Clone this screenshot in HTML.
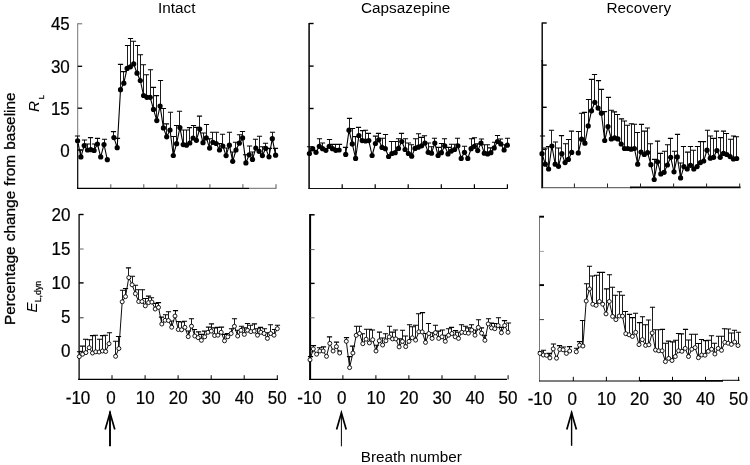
<!DOCTYPE html>
<html><head><meta charset="utf-8"><title>Figure</title>
<style>
html,body{margin:0;padding:0;background:#fff}
svg{display:block}
text{font-family:"Liberation Sans",Arial,sans-serif;font-size:15.3px;fill:#000}
.b{stroke:#000;stroke-width:0.3px}
.t{stroke:#000;stroke-width:0.2px}
</style></head><body>
<svg width="750" height="465" viewBox="0 0 750 465">
<rect width="750" height="465" fill="#fff"/>
<path d="M77.7 23.3V145" stroke="#777" stroke-width="1"/>
<path d="M77.7 144V188.9" stroke="#000" stroke-width="1.2"/>
<path d="M77.7 23.8h4.5" stroke="#666" stroke-width="1"/>
<path d="M77.7 66.3h4.5" stroke="#000" stroke-width="1.3"/>
<path d="M77.7 108.2h4.5" stroke="#000" stroke-width="1.3"/>
<path d="M77.7 150h4.5" stroke="#000" stroke-width="1.2"/>
<path d="M77.1 188.4H249" stroke="#000" stroke-width="1.25"/>
<path d="M249 188.3H276.3" stroke="#555" stroke-width="0.9"/>
<path d="M110.8 188.4v-4.2M143.8 188.4v-4.2M176.8 188.4v-4.2M209.9 188.4v-4.2M242.9 188.4v-4.2M276 188.4v-4.2" stroke="#444" stroke-width="0.9"/>
<path d="M309.1 22.9V189" stroke="#000" stroke-width="1.5"/>
<path d="M309.1 23.5h4.5" stroke="#000" stroke-width="1.4"/>
<path d="M309.1 66.1h4.5" stroke="#000" stroke-width="1.4"/>
<path d="M309.1 108.5h4.5" stroke="#000" stroke-width="1.4"/>
<path d="M309.1 150.5h4.5" stroke="#000" stroke-width="1.4"/>
<path d="M308.5 188.5H507.8" stroke="#111" stroke-width="1.0"/>
<path d="M342.2 188.5v-4.2M375.2 188.5v-4.2M408.2 188.5v-4.2M441.3 188.5v-4.2M474.4 188.5v-4.2M507.4 188.5v-4.2" stroke="#000" stroke-width="1.2"/>
<path d="M542.2 22.4V61" stroke="#000" stroke-width="1.4"/>
<path d="M542.2 60V188.2" stroke="#000" stroke-width="1.8"/>
<path d="M542.2 23h4.5" stroke="#000" stroke-width="1.4"/>
<path d="M542.2 65.1h4.5" stroke="#000" stroke-width="1.4"/>
<path d="M542.2 107.3h4.5" stroke="#000" stroke-width="1.4"/>
<path d="M542.2 149.4h4.5" stroke="#000" stroke-width="1.4"/>
<path d="M541 187.7H632" stroke="#333" stroke-width="0.9"/>
<path d="M630 187.3H740.6" stroke="#000" stroke-width="1.7"/>
<path d="M574.4 187.7v-4.2M607.5 187.7v-4.2M640.5 187.7v-4.2M673.6 187.7v-4.2M706.6 187.7v-4.2M739.7 187.7v-4.2" stroke="#222" stroke-width="1.0"/>
<path d="M79.1 214V380" stroke="#000" stroke-width="1.3"/>
<path d="M79.1 214.5h4.5" stroke="#000" stroke-width="1.4"/>
<path d="M79.1 249h4.5" stroke="#555" stroke-width="0.9"/>
<path d="M79.1 282.9h4.5" stroke="#000" stroke-width="1.4"/>
<path d="M79.1 317.8h4.5" stroke="#333" stroke-width="1"/>
<path d="M79.1 351.3h4.5" stroke="#333" stroke-width="1"/>
<path d="M78.2 379.4H278" stroke="#000" stroke-width="1.2"/>
<path d="M112 379.4v-4.2M145.1 379.4v-4.2M178.1 379.4v-4.2M211.2 379.4v-4.2M244.2 379.4v-4.2M277.3 379.4v-4.2" stroke="#000" stroke-width="1.0"/>
<path d="M310.1 214V380" stroke="#000" stroke-width="2"/>
<path d="M310.1 214.8h4.5" stroke="#000" stroke-width="1.5"/>
<path d="M310.1 249.6h4.5" stroke="#555" stroke-width="0.9"/>
<path d="M310.1 283.4h4.5" stroke="#000" stroke-width="1.4"/>
<path d="M310.1 317.8h4.5" stroke="#555" stroke-width="0.9"/>
<path d="M310.1 351.8h4.5" stroke="#333" stroke-width="1"/>
<path d="M309.1 379.4H507" stroke="#000" stroke-width="1.2"/>
<path d="M342.9 379.4v-4.2M375.9 379.4v-4.2M408.9 379.4v-4.2M442 379.4v-4.2M475.1 379.4v-4.2M508.1 379.4v-4.2" stroke="#000" stroke-width="1.0"/>
<path d="M539.5 215.8V381.4" stroke="#777" stroke-width="1"/>
<path d="M539.5 216.7h4.5" stroke="#000" stroke-width="1.9"/>
<path d="M539.5 251.4h4.5" stroke="#999" stroke-width="0.9"/>
<path d="M539.5 285.1h4.5" stroke="#000" stroke-width="1.9"/>
<path d="M539.5 319.6h4.5" stroke="#444" stroke-width="1"/>
<path d="M539.5 353.5h4.5" stroke="#444" stroke-width="1"/>
<path d="M539 381H641" stroke="#000" stroke-width="1.0"/>
<path d="M640 380.9H723" stroke="#000" stroke-width="1.9"/>
<path d="M722 380.3H739.6" stroke="#000" stroke-width="1.0"/>
<path d="M573.3 381v-4.2M606.4 381v-4.2M639.4 381v-4.2M672.5 381v-4.2M705.5 381v-4.2M738.6 381v-4.2" stroke="#000" stroke-width="1.0"/>
<path d="M77.5 140.8V136M80.5 156.9V150M84.5 145.6V140M87.5 150V144M90.5 149.7V137.6M94.5 150.5V144M97.5 144V138.4M104.5 144.5V139.2M113.5 137.6V131.6M117.5 147.7V138.4M120.5 89.7V64.4M123.5 83.2V71.6M127.5 68.4V45.5M130.5 66.8V38.5M133.5 63.9V41.3M137.5 73.2V45.5M140.5 80.5V54.7M143.5 95.5V64.8M146.5 97.3V74.8M150.5 97.3V69.7M153.5 109.4V87.4M156.5 120.6V95.6M160.5 106.1V80.5M163.5 127.9V108.5M166.5 136.8V123.9M170.5 130V112.3M173.5 155.5V136.5M176.5 143.7V125.5M179.5 127.6V111.3M183.5 144.6V130M186.5 145.2V130M189.5 143V127.6M193.5 138V125.5M196.5 140.3V127.4M199.5 129V116.1M203.5 142.7V133M206.5 137.9V124.5M209.5 148.1V138.7M212.5 142.3V132.3M216.5 143.5V132.3M219.5 150V143.5M222.5 146V134.2M226.5 155.6V148M229.5 145.2V132.3M232.5 161.3V152M235.5 150V142.3M239.5 143.2V134.7M242.5 137.9V131.5M245.5 162.9V154.8M249.5 154.8V146M252.5 159.4V152M255.5 148.1V139.2M259.5 151.3V136.3M262.5 155.6V146.8M265.5 148.4V143.2M269.5 156.8V148.4M272.5 138.7V132.3M275.5 155.2V148.4" stroke="#111" stroke-width="0.95" fill="none"/>
<path d="M74.9 136H80.1M77.9 150H83.1M81.9 140H87.1M84.9 144H90.1M87.9 137.6H93.1M91.9 144H97.1M94.9 138.4H100.1M101.9 139.2H107.1M110.9 131.6H116.1M114.9 138.4H120.1M117.9 64.4H123.1M120.9 71.6H126.1M124.9 45.5H130.1M127.9 38.5H133.1M130.9 41.3H136.1M134.9 45.5H140.1M137.9 54.7H143.1M140.9 64.8H146.1M143.9 74.8H149.1M147.9 69.7H153.1M150.9 87.4H156.1M153.9 95.6H159.1M157.9 80.5H163.1M160.9 108.5H166.1M163.9 123.9H169.1M167.9 112.3H173.1M170.9 136.5H176.1M173.9 125.5H179.1M176.9 111.3H182.1M180.9 130H186.1M183.9 130H189.1M186.9 127.6H192.1M190.9 125.5H196.1M193.9 127.4H199.1M196.9 116.1H202.1M200.9 133H206.1M203.9 124.5H209.1M206.9 138.7H212.1M209.9 132.3H215.1M213.9 132.3H219.1M216.9 143.5H222.1M219.9 134.2H225.1M223.9 148H229.1M226.9 132.3H232.1M229.9 152H235.1M232.9 142.3H238.1M236.9 134.7H242.1M239.9 131.5H245.1M242.9 154.8H248.1M246.9 146H252.1M249.9 152H255.1M252.9 139.2H258.1M256.9 136.3H262.1M259.9 146.8H265.1M262.9 143.2H268.1M266.9 148.4H272.1M269.9 132.3H275.1M272.9 148.4H278.1" stroke="#000" stroke-width="1.1" fill="none"/>
<path d="M77.6 140.8L80.9 156.9L84.2 145.6L87.5 150L90.8 149.7L94.1 150.5L97.4 144L100.7 156.9L104 144.5L107.3 159.7M113.9 137.6L117.2 147.7L120.5 89.7L123.8 83.2L127.1 68.4L130.4 66.8L133.7 63.9L137 73.2L140.3 80.5L143.6 95.5L146.9 97.3L150.2 97.3L153.5 109.4L156.8 120.6L160.1 106.1L163.4 127.9L166.7 136.8L170 130L173.3 155.5L176.6 143.7L179.9 127.6L183.2 144.6L186.5 145.2L189.8 143L193.1 138L196.4 140.3L199.7 129L203 142.7L206.3 137.9L209.6 148.1L212.9 142.3L216.2 143.5L219.5 150L222.8 146L226.1 155.6L229.4 145.2L232.7 161.3L236 150L239.3 143.2L242.6 137.9L245.9 162.9L249.2 154.8L252.5 159.4L255.8 148.1L259.1 151.3L262.4 155.6L265.7 148.4L269 156.8L272.3 138.7L275.6 155.2" stroke="#000" stroke-width="1.1" fill="none" stroke-linejoin="round"/>
<g fill="#000"><circle cx="77.6" cy="140.8" r="2.6"/><circle cx="80.9" cy="156.9" r="2.6"/><circle cx="84.2" cy="145.6" r="2.6"/><circle cx="87.5" cy="150" r="2.6"/><circle cx="90.8" cy="149.7" r="2.6"/><circle cx="94.1" cy="150.5" r="2.6"/><circle cx="97.4" cy="144" r="2.6"/><circle cx="100.7" cy="156.9" r="2.6"/><circle cx="104" cy="144.5" r="2.6"/><circle cx="107.3" cy="159.7" r="2.6"/><circle cx="113.9" cy="137.6" r="2.6"/><circle cx="117.2" cy="147.7" r="2.6"/><circle cx="120.5" cy="89.7" r="2.6"/><circle cx="123.8" cy="83.2" r="2.6"/><circle cx="127.1" cy="68.4" r="2.6"/><circle cx="130.4" cy="66.8" r="2.6"/><circle cx="133.7" cy="63.9" r="2.6"/><circle cx="137" cy="73.2" r="2.6"/><circle cx="140.3" cy="80.5" r="2.6"/><circle cx="143.6" cy="95.5" r="2.6"/><circle cx="146.9" cy="97.3" r="2.6"/><circle cx="150.2" cy="97.3" r="2.6"/><circle cx="153.5" cy="109.4" r="2.6"/><circle cx="156.8" cy="120.6" r="2.6"/><circle cx="160.1" cy="106.1" r="2.6"/><circle cx="163.4" cy="127.9" r="2.6"/><circle cx="166.7" cy="136.8" r="2.6"/><circle cx="170" cy="130" r="2.6"/><circle cx="173.3" cy="155.5" r="2.6"/><circle cx="176.6" cy="143.7" r="2.6"/><circle cx="179.9" cy="127.6" r="2.6"/><circle cx="183.2" cy="144.6" r="2.6"/><circle cx="186.5" cy="145.2" r="2.6"/><circle cx="189.8" cy="143" r="2.6"/><circle cx="193.1" cy="138" r="2.6"/><circle cx="196.4" cy="140.3" r="2.6"/><circle cx="199.7" cy="129" r="2.6"/><circle cx="203" cy="142.7" r="2.6"/><circle cx="206.3" cy="137.9" r="2.6"/><circle cx="209.6" cy="148.1" r="2.6"/><circle cx="212.9" cy="142.3" r="2.6"/><circle cx="216.2" cy="143.5" r="2.6"/><circle cx="219.5" cy="150" r="2.6"/><circle cx="222.8" cy="146" r="2.6"/><circle cx="226.1" cy="155.6" r="2.6"/><circle cx="229.4" cy="145.2" r="2.6"/><circle cx="232.7" cy="161.3" r="2.6"/><circle cx="236" cy="150" r="2.6"/><circle cx="239.3" cy="143.2" r="2.6"/><circle cx="242.6" cy="137.9" r="2.6"/><circle cx="245.9" cy="162.9" r="2.6"/><circle cx="249.2" cy="154.8" r="2.6"/><circle cx="252.5" cy="159.4" r="2.6"/><circle cx="255.8" cy="148.1" r="2.6"/><circle cx="259.1" cy="151.3" r="2.6"/><circle cx="262.4" cy="155.6" r="2.6"/><circle cx="265.7" cy="148.4" r="2.6"/><circle cx="269" cy="156.8" r="2.6"/><circle cx="272.3" cy="138.7" r="2.6"/><circle cx="275.6" cy="155.2" r="2.6"/></g>
<path d="M309.5 153.5V146.8M319.5 146.3V138.7M322.5 148.7V143M329.5 146.3V139.5M332.5 148.7V144.4M335.5 150.3V144.4M339.5 150V144.4M345.5 154.4V147.4M349.5 130.2V118.4M352.5 143.9V128.5M355.5 158.4V136.6M358.5 135.5V127.4M362.5 140.6V130.6M365.5 141V130.2M368.5 140.6V133.4M375.5 143.5V136.1M378.5 139.8V133.4M382.5 147.4V138.2M385.5 148.7V134.5M391.5 153.5V141.5M395.5 152.7V141.5M398.5 148.4V138.7M401.5 141.5V133.4M405.5 149.5V138.7M408.5 153.5V143M411.5 156.2V144.7M415.5 148.4V138.8M418.5 147.2V133.8M421.5 145.8V137.4M424.5 143.1V135.8M428.5 152.3V143M431.5 153.2V146.8M434.5 143.1V138.2M438.5 155.5V147.4M441.5 152.7V143.5M444.5 145.8V138.7M448.5 153.9V147.4M451.5 151.1V144.2M454.5 149.5V144.2M457.5 145.8V138.2M464.5 152.3V146.3M471.5 148.7V138.7M474.5 146.3V137.7M477.5 150.6V143.9M481.5 143.1V139M484.5 153.2V144.7M487.5 153.9V144.7M490.5 152.7V147.9M494.5 147.9V142.3M497.5 141.5V135.5M500.5 143.9V139M504.5 150V144.7M507.5 145.2V138.2" stroke="#111" stroke-width="0.95" fill="none"/>
<path d="M306.9 146.8H312.1M316.9 138.7H322.1M319.9 143H325.1M326.9 139.5H332.1M329.9 144.4H335.1M332.9 144.4H338.1M336.9 144.4H342.1M342.9 147.4H348.1M346.9 118.4H352.1M349.9 128.5H355.1M352.9 136.6H358.1M355.9 127.4H361.1M359.9 130.6H365.1M362.9 130.2H368.1M365.9 133.4H371.1M372.9 136.1H378.1M375.9 133.4H381.1M379.9 138.2H385.1M382.9 134.5H388.1M388.9 141.5H394.1M392.9 141.5H398.1M395.9 138.7H401.1M398.9 133.4H404.1M402.9 138.7H408.1M405.9 143H411.1M408.9 144.7H414.1M412.9 138.8H418.1M415.9 133.8H421.1M418.9 137.4H424.1M421.9 135.8H427.1M425.9 143H431.1M428.9 146.8H434.1M431.9 138.2H437.1M435.9 147.4H441.1M438.9 143.5H444.1M441.9 138.7H447.1M445.9 147.4H451.1M448.9 144.2H454.1M451.9 144.2H457.1M454.9 138.2H460.1M461.9 146.3H467.1M468.9 138.7H474.1M471.9 137.7H477.1M474.9 143.9H480.1M478.9 139H484.1M481.9 144.7H487.1M484.9 144.7H490.1M487.9 147.9H493.1M491.9 142.3H497.1M494.9 135.5H500.1M497.9 139H503.1M501.9 144.7H507.1M504.9 138.2H510.1" stroke="#000" stroke-width="1.1" fill="none"/>
<path d="M309.4 153.5L312.7 148.7L316 152.3L319.3 146.3L322.6 148.7L325.9 150.3L329.2 146.3L332.5 148.7L335.8 150.3L339.1 150M345.7 154.4L349 130.2L352.3 143.9L355.6 158.4L358.9 135.5L362.2 140.6L365.5 141L368.8 140.6L372.1 155.5L375.4 143.5L378.7 139.8L382 147.4L385.3 148.7L388.6 156.5L391.9 153.5L395.2 152.7L398.5 148.4L401.8 141.5L405.1 149.5L408.4 153.5L411.7 156.2L415 148.4L418.3 147.2L421.6 145.8L424.9 143.1L428.2 152.3L431.5 153.2L434.8 143.1L438.1 155.5L441.4 152.7L444.7 145.8L448 153.9L451.3 151.1L454.6 149.5L457.9 145.8L461.2 158.4L464.5 152.3L467.8 158.4L471.1 148.7L474.4 146.3L477.7 150.6L481 143.1L484.3 153.2L487.6 153.9L490.9 152.7L494.2 147.9L497.5 141.5L500.8 143.9L504.1 150L507.4 145.2" stroke="#000" stroke-width="1.1" fill="none" stroke-linejoin="round"/>
<g fill="#000"><circle cx="309.4" cy="153.5" r="2.6"/><circle cx="312.7" cy="148.7" r="2.6"/><circle cx="316" cy="152.3" r="2.6"/><circle cx="319.3" cy="146.3" r="2.6"/><circle cx="322.6" cy="148.7" r="2.6"/><circle cx="325.9" cy="150.3" r="2.6"/><circle cx="329.2" cy="146.3" r="2.6"/><circle cx="332.5" cy="148.7" r="2.6"/><circle cx="335.8" cy="150.3" r="2.6"/><circle cx="339.1" cy="150" r="2.6"/><circle cx="345.7" cy="154.4" r="2.6"/><circle cx="349" cy="130.2" r="2.6"/><circle cx="352.3" cy="143.9" r="2.6"/><circle cx="355.6" cy="158.4" r="2.6"/><circle cx="358.9" cy="135.5" r="2.6"/><circle cx="362.2" cy="140.6" r="2.6"/><circle cx="365.5" cy="141" r="2.6"/><circle cx="368.8" cy="140.6" r="2.6"/><circle cx="372.1" cy="155.5" r="2.6"/><circle cx="375.4" cy="143.5" r="2.6"/><circle cx="378.7" cy="139.8" r="2.6"/><circle cx="382" cy="147.4" r="2.6"/><circle cx="385.3" cy="148.7" r="2.6"/><circle cx="388.6" cy="156.5" r="2.6"/><circle cx="391.9" cy="153.5" r="2.6"/><circle cx="395.2" cy="152.7" r="2.6"/><circle cx="398.5" cy="148.4" r="2.6"/><circle cx="401.8" cy="141.5" r="2.6"/><circle cx="405.1" cy="149.5" r="2.6"/><circle cx="408.4" cy="153.5" r="2.6"/><circle cx="411.7" cy="156.2" r="2.6"/><circle cx="415" cy="148.4" r="2.6"/><circle cx="418.3" cy="147.2" r="2.6"/><circle cx="421.6" cy="145.8" r="2.6"/><circle cx="424.9" cy="143.1" r="2.6"/><circle cx="428.2" cy="152.3" r="2.6"/><circle cx="431.5" cy="153.2" r="2.6"/><circle cx="434.8" cy="143.1" r="2.6"/><circle cx="438.1" cy="155.5" r="2.6"/><circle cx="441.4" cy="152.7" r="2.6"/><circle cx="444.7" cy="145.8" r="2.6"/><circle cx="448" cy="153.9" r="2.6"/><circle cx="451.3" cy="151.1" r="2.6"/><circle cx="454.6" cy="149.5" r="2.6"/><circle cx="457.9" cy="145.8" r="2.6"/><circle cx="461.2" cy="158.4" r="2.6"/><circle cx="464.5" cy="152.3" r="2.6"/><circle cx="467.8" cy="158.4" r="2.6"/><circle cx="471.1" cy="148.7" r="2.6"/><circle cx="474.4" cy="146.3" r="2.6"/><circle cx="477.7" cy="150.6" r="2.6"/><circle cx="481" cy="143.1" r="2.6"/><circle cx="484.3" cy="153.2" r="2.6"/><circle cx="487.6" cy="153.9" r="2.6"/><circle cx="490.9" cy="152.7" r="2.6"/><circle cx="494.2" cy="147.9" r="2.6"/><circle cx="497.5" cy="141.5" r="2.6"/><circle cx="500.8" cy="143.9" r="2.6"/><circle cx="504.1" cy="150" r="2.6"/><circle cx="507.4" cy="145.2" r="2.6"/></g>
<path d="M542.5 153.7V136M545.5 164.2V148M548.5 169V146.5M551.5 146V130.3M555.5 164.2V142M558.5 166.3V148M561.5 153.7V135.6M565.5 162.6V143.7M568.5 159.4V139.5M571.5 152.4V131.1M578.5 152.9V131.5M581.5 139.2V113.2M584.5 143.2V112.4M588.5 125.9V99.5M591.5 110.8V79.4M594.5 102.3V74.5M598.5 108.1V80.6M601.5 113.2V89.4M604.5 140.5V111.6M608.5 126.5V97.4M611.5 138.9V110.3M614.5 137.9V111.9M617.5 138.9V114.5M621.5 144V118.9M624.5 148.5V121M627.5 148.5V125.3M631.5 149.2V123.7M634.5 148.5V124.2M637.5 164.2V132.5M641.5 152V124.4M644.5 154.5V131.1M647.5 152.6V128M650.5 164.7V143.7M654.5 179.5V159.4M657.5 161.8V141.1M660.5 173.9V153.4M664.5 172.3V151.3M667.5 165V144.8M670.5 157.3V138.4M674.5 171.8V151.3M677.5 156.9V134.4M680.5 177.9V163M683.5 166.6V146.5M687.5 169V152.1M690.5 165.3V146.5M693.5 169V150.2M697.5 166.6V146.5M700.5 162.6V141.6M703.5 161V141.6M707.5 150.2V130.3M710.5 158.2V136M713.5 157.3V138.4M716.5 150.5V131.1M720.5 157.3V137.6M723.5 153.4V131.1M726.5 154.5V133.5M730.5 156.6V139.2M733.5 158.9V136M736.5 158.5V136.8" stroke="#111" stroke-width="0.95" fill="none"/>
<path d="M539.9 136H545.1M542.9 148H548.1M545.9 146.5H551.1M548.9 130.3H554.1M552.9 142H558.1M555.9 148H561.1M558.9 135.6H564.1M562.9 143.7H568.1M565.9 139.5H571.1M568.9 131.1H574.1M575.9 131.5H581.1M578.9 113.2H584.1M581.9 112.4H587.1M585.9 99.5H591.1M588.9 79.4H594.1M591.9 74.5H597.1M595.9 80.6H601.1M598.9 89.4H604.1M601.9 111.6H607.1M605.9 97.4H611.1M608.9 110.3H614.1M611.9 111.9H617.1M614.9 114.5H620.1M618.9 118.9H624.1M621.9 121H627.1M624.9 125.3H630.1M628.9 123.7H634.1M631.9 124.2H637.1M634.9 132.5H640.1M638.9 124.4H644.1M641.9 131.1H647.1M644.9 128H650.1M647.9 143.7H653.1M651.9 159.4H657.1M654.9 141.1H660.1M657.9 153.4H663.1M661.9 151.3H667.1M664.9 144.8H670.1M667.9 138.4H673.1M671.9 151.3H677.1M674.9 134.4H680.1M677.9 163H683.1M680.9 146.5H686.1M684.9 152.1H690.1M687.9 146.5H693.1M690.9 150.2H696.1M694.9 146.5H700.1M697.9 141.6H703.1M700.9 141.6H706.1M704.9 130.3H710.1M707.9 136H713.1M710.9 138.4H716.1M713.9 131.1H719.1M717.9 137.6H723.1M720.9 131.1H726.1M723.9 133.5H729.1M727.9 139.2H733.1M730.9 136H736.1M733.9 136.8H739.1" stroke="#000" stroke-width="1.1" fill="none"/>
<path d="M542 153.7L545.3 164.2L548.6 169L551.9 146L555.2 164.2L558.5 166.3L561.8 153.7L565.1 162.6L568.4 159.4L571.7 152.4M578.3 152.9L581.6 139.2L584.9 143.2L588.2 125.9L591.5 110.8L594.8 102.3L598.1 108.1L601.4 113.2L604.7 140.5L608 126.5L611.3 138.9L614.6 137.9L617.9 138.9L621.2 144L624.5 148.5L627.8 148.5L631.1 149.2L634.4 148.5L637.7 164.2L641 152L644.3 154.5L647.6 152.6L650.9 164.7L654.2 179.5L657.5 161.8L660.8 173.9L664.1 172.3L667.4 165L670.7 157.3L674 171.8L677.3 156.9L680.6 177.9L683.9 166.6L687.2 169L690.5 165.3L693.8 169L697.1 166.6L700.4 162.6L703.7 161L707 150.2L710.3 158.2L713.6 157.3L716.9 150.5L720.2 157.3L723.5 153.4L726.8 154.5L730.1 156.6L733.4 158.9L736.7 158.5" stroke="#000" stroke-width="1.1" fill="none" stroke-linejoin="round"/>
<g fill="#000"><circle cx="542" cy="153.7" r="2.6"/><circle cx="545.3" cy="164.2" r="2.6"/><circle cx="548.6" cy="169" r="2.6"/><circle cx="551.9" cy="146" r="2.6"/><circle cx="555.2" cy="164.2" r="2.6"/><circle cx="558.5" cy="166.3" r="2.6"/><circle cx="561.8" cy="153.7" r="2.6"/><circle cx="565.1" cy="162.6" r="2.6"/><circle cx="568.4" cy="159.4" r="2.6"/><circle cx="571.7" cy="152.4" r="2.6"/><circle cx="578.3" cy="152.9" r="2.6"/><circle cx="581.6" cy="139.2" r="2.6"/><circle cx="584.9" cy="143.2" r="2.6"/><circle cx="588.2" cy="125.9" r="2.6"/><circle cx="591.5" cy="110.8" r="2.6"/><circle cx="594.8" cy="102.3" r="2.6"/><circle cx="598.1" cy="108.1" r="2.6"/><circle cx="601.4" cy="113.2" r="2.6"/><circle cx="604.7" cy="140.5" r="2.6"/><circle cx="608" cy="126.5" r="2.6"/><circle cx="611.3" cy="138.9" r="2.6"/><circle cx="614.6" cy="137.9" r="2.6"/><circle cx="617.9" cy="138.9" r="2.6"/><circle cx="621.2" cy="144" r="2.6"/><circle cx="624.5" cy="148.5" r="2.6"/><circle cx="627.8" cy="148.5" r="2.6"/><circle cx="631.1" cy="149.2" r="2.6"/><circle cx="634.4" cy="148.5" r="2.6"/><circle cx="637.7" cy="164.2" r="2.6"/><circle cx="641" cy="152" r="2.6"/><circle cx="644.3" cy="154.5" r="2.6"/><circle cx="647.6" cy="152.6" r="2.6"/><circle cx="650.9" cy="164.7" r="2.6"/><circle cx="654.2" cy="179.5" r="2.6"/><circle cx="657.5" cy="161.8" r="2.6"/><circle cx="660.8" cy="173.9" r="2.6"/><circle cx="664.1" cy="172.3" r="2.6"/><circle cx="667.4" cy="165" r="2.6"/><circle cx="670.7" cy="157.3" r="2.6"/><circle cx="674" cy="171.8" r="2.6"/><circle cx="677.3" cy="156.9" r="2.6"/><circle cx="680.6" cy="177.9" r="2.6"/><circle cx="683.9" cy="166.6" r="2.6"/><circle cx="687.2" cy="169" r="2.6"/><circle cx="690.5" cy="165.3" r="2.6"/><circle cx="693.8" cy="169" r="2.6"/><circle cx="697.1" cy="166.6" r="2.6"/><circle cx="700.4" cy="162.6" r="2.6"/><circle cx="703.7" cy="161" r="2.6"/><circle cx="707" cy="150.2" r="2.6"/><circle cx="710.3" cy="158.2" r="2.6"/><circle cx="713.6" cy="157.3" r="2.6"/><circle cx="716.9" cy="150.5" r="2.6"/><circle cx="720.2" cy="157.3" r="2.6"/><circle cx="723.5" cy="153.4" r="2.6"/><circle cx="726.8" cy="154.5" r="2.6"/><circle cx="730.1" cy="156.6" r="2.6"/><circle cx="733.4" cy="158.9" r="2.6"/><circle cx="736.7" cy="158.5" r="2.6"/></g>
<path d="M79.5 356.6V351.8M82.5 354.2V346.1M85.5 352.6V339.2M89.5 347.7V339.7M92.5 353V335.6M95.5 351.8V335.3M99.5 352V339.2M102.5 351V335.6M105.5 351.5V335.3M109.5 343.7V332.7M115.5 356.3V341.3M118.5 348.5V336.5M122.5 301.8V290.2M125.5 296.6V288.5M128.5 277.6V267.9M132.5 284.8V276.3M135.5 293.7V285.3M138.5 301.5V289.7M142.5 301.5V289.7M145.5 305.8V298.5M148.5 302.6V296.1M151.5 302.1V297.7M155.5 309V303.4M158.5 307.4V302.6M161.5 324V317.1M165.5 320.3V314.8M168.5 320.5V311.8M171.5 327.2V321M175.5 316V310.6M178.5 329.5V321.5M181.5 329.8V322M184.5 327.3V321.3M188.5 336.6V331M191.5 326.2V318.7M194.5 336V329.5M198.5 337.6V331.9M201.5 340.3V334.4M204.5 336.8V331.1M208.5 332.3V327.1M211.5 331.1V323.9M214.5 335.5V327.9M217.5 335.2V327.4M221.5 332.3V327.1M224.5 340.8V334.4M227.5 336.8V333.5M231.5 333.5V328.7M234.5 326.3V318.7M237.5 336V330.3M241.5 330.3V326.3M244.5 334.4V327.9M247.5 330.3V323.5M250.5 331.6V325.2M254.5 331.1V323.9M257.5 335.2V328.7M260.5 332.3V327.4M264.5 333.5V328.7M267.5 338.4V332.7M270.5 333.5V324.7M274.5 335.2V329.5M277.5 328.7V325.2" stroke="#111" stroke-width="0.95" fill="none"/>
<path d="M76.9 351.8H82.1M79.9 346.1H85.1M82.9 339.2H88.1M86.9 339.7H92.1M89.9 335.6H95.1M92.9 335.3H98.1M96.9 339.2H102.1M99.9 335.6H105.1M102.9 335.3H108.1M106.9 332.7H112.1M112.9 341.3H118.1M115.9 336.5H121.1M119.9 290.2H125.1M122.9 288.5H128.1M125.9 267.9H131.1M129.9 276.3H135.1M132.9 285.3H138.1M135.9 289.7H141.1M139.9 289.7H145.1M142.9 298.5H148.1M145.9 296.1H151.1M148.9 297.7H154.1M152.9 303.4H158.1M155.9 302.6H161.1M158.9 317.1H164.1M162.9 314.8H168.1M165.9 311.8H171.1M168.9 321H174.1M172.9 310.6H178.1M175.9 321.5H181.1M178.9 322H184.1M181.9 321.3H187.1M185.9 331H191.1M188.9 318.7H194.1M191.9 329.5H197.1M195.9 331.9H201.1M198.9 334.4H204.1M201.9 331.1H207.1M205.9 327.1H211.1M208.9 323.9H214.1M211.9 327.9H217.1M214.9 327.4H220.1M218.9 327.1H224.1M221.9 334.4H227.1M224.9 333.5H230.1M228.9 328.7H234.1M231.9 318.7H237.1M234.9 330.3H240.1M238.9 326.3H244.1M241.9 327.9H247.1M244.9 323.5H250.1M247.9 325.2H253.1M251.9 323.9H257.1M254.9 328.7H260.1M257.9 327.4H263.1M261.9 328.7H267.1M264.9 332.7H270.1M267.9 324.7H273.1M271.9 329.5H277.1M274.9 325.2H280.1" stroke="#000" stroke-width="1.1" fill="none"/>
<path d="M79.3 356.6L82.6 354.2L85.9 352.6L89.2 347.7L92.5 353L95.8 351.8L99.1 352L102.4 351L105.7 351.5L109 343.7M115.6 356.3L118.9 348.5L122.2 301.8L125.5 296.6L128.8 277.6L132.1 284.8L135.4 293.7L138.7 301.5L142 301.5L145.3 305.8L148.6 302.6L151.9 302.1L155.2 309L158.5 307.4L161.8 324L165.1 320.3L168.4 320.5L171.7 327.2L175 316L178.3 329.5L181.6 329.8L184.9 327.3L188.2 336.6L191.5 326.2L194.8 336L198.1 337.6L201.4 340.3L204.7 336.8L208 332.3L211.3 331.1L214.6 335.5L217.9 335.2L221.2 332.3L224.5 340.8L227.8 336.8L231.1 333.5L234.4 326.3L237.7 336L241 330.3L244.3 334.4L247.6 330.3L250.9 331.6L254.2 331.1L257.5 335.2L260.8 332.3L264.1 333.5L267.4 338.4L270.7 333.5L274 335.2L277.3 328.7" stroke="#000" stroke-width="0.95" fill="none" stroke-linejoin="round"/>
<g fill="#fff" stroke="#000" stroke-width="0.9"><circle cx="79.3" cy="356.6" r="2"/><circle cx="82.6" cy="354.2" r="2"/><circle cx="85.9" cy="352.6" r="2"/><circle cx="89.2" cy="347.7" r="2"/><circle cx="92.5" cy="353" r="2"/><circle cx="95.8" cy="351.8" r="2"/><circle cx="99.1" cy="352" r="2"/><circle cx="102.4" cy="351" r="2"/><circle cx="105.7" cy="351.5" r="2"/><circle cx="109" cy="343.7" r="2"/><circle cx="115.6" cy="356.3" r="2"/><circle cx="118.9" cy="348.5" r="2"/><circle cx="122.2" cy="301.8" r="2"/><circle cx="125.5" cy="296.6" r="2"/><circle cx="128.8" cy="277.6" r="2"/><circle cx="132.1" cy="284.8" r="2"/><circle cx="135.4" cy="293.7" r="2"/><circle cx="138.7" cy="301.5" r="2"/><circle cx="142" cy="301.5" r="2"/><circle cx="145.3" cy="305.8" r="2"/><circle cx="148.6" cy="302.6" r="2"/><circle cx="151.9" cy="302.1" r="2"/><circle cx="155.2" cy="309" r="2"/><circle cx="158.5" cy="307.4" r="2"/><circle cx="161.8" cy="324" r="2"/><circle cx="165.1" cy="320.3" r="2"/><circle cx="168.4" cy="320.5" r="2"/><circle cx="171.7" cy="327.2" r="2"/><circle cx="175" cy="316" r="2"/><circle cx="178.3" cy="329.5" r="2"/><circle cx="181.6" cy="329.8" r="2"/><circle cx="184.9" cy="327.3" r="2"/><circle cx="188.2" cy="336.6" r="2"/><circle cx="191.5" cy="326.2" r="2"/><circle cx="194.8" cy="336" r="2"/><circle cx="198.1" cy="337.6" r="2"/><circle cx="201.4" cy="340.3" r="2"/><circle cx="204.7" cy="336.8" r="2"/><circle cx="208" cy="332.3" r="2"/><circle cx="211.3" cy="331.1" r="2"/><circle cx="214.6" cy="335.5" r="2"/><circle cx="217.9" cy="335.2" r="2"/><circle cx="221.2" cy="332.3" r="2"/><circle cx="224.5" cy="340.8" r="2"/><circle cx="227.8" cy="336.8" r="2"/><circle cx="231.1" cy="333.5" r="2"/><circle cx="234.4" cy="326.3" r="2"/><circle cx="237.7" cy="336" r="2"/><circle cx="241" cy="330.3" r="2"/><circle cx="244.3" cy="334.4" r="2"/><circle cx="247.6" cy="330.3" r="2"/><circle cx="250.9" cy="331.6" r="2"/><circle cx="254.2" cy="331.1" r="2"/><circle cx="257.5" cy="335.2" r="2"/><circle cx="260.8" cy="332.3" r="2"/><circle cx="264.1" cy="333.5" r="2"/><circle cx="267.4" cy="338.4" r="2"/><circle cx="270.7" cy="333.5" r="2"/><circle cx="274" cy="335.2" r="2"/><circle cx="277.3" cy="328.7" r="2"/></g>
<path d="M310.5 359.8V356.6M313.5 348.9V345.6M319.5 351V347.7M323.5 351V346.9M329.5 343.4V336.9M336.5 346.6V342.1M339.5 353V351M346.5 341.3V337.6M349.5 367.6V356.6M352.5 353V346.1M356.5 335.3V326.3M359.5 333.5V326.3M362.5 343.7V333.7M366.5 339.2V329.2M369.5 342.9V329.2M372.5 339.7V330M376.5 351V345.3M379.5 340.8V332.1M382.5 345V338M385.5 340.8V333.7M389.5 336.9V326.3M392.5 338.9V332.1M395.5 338.9V330M399.5 346.9V338.9M402.5 341.4V330.3M405.5 346.6V336M409.5 341.4V324.7M412.5 337.8V326.8M415.5 340.1V325.3M418.5 331.8V313.7M422.5 331.9V312.6M425.5 342.4V333.5M428.5 333.5V323.5M432.5 338.4V332.7M435.5 332.7V325.2M438.5 338.4V331.1M442.5 336.8V330M445.5 341.3V335.2M448.5 335.2V328.7M451.5 333.5V327.4M455.5 336.8V330.6M458.5 338.4V332.3M461.5 332.3V324.7M465.5 332.7V326.3M468.5 333.2V327.9M471.5 330V324.7M475.5 335.2V330M478.5 327.4V319.8M481.5 333.2V327.9M484.5 340.3V335.2M488.5 323.9V318.7M491.5 327.9V323.1M494.5 328.7V323.5M498.5 325.5V317.7M501.5 332.7V327.4M504.5 325.5V320.6M508.5 332.3V323" stroke="#111" stroke-width="0.95" fill="none"/>
<path d="M307.9 356.6H313.1M310.9 345.6H316.1M316.9 347.7H322.1M320.9 346.9H326.1M326.9 336.9H332.1M333.9 342.1H339.1M336.9 351H342.1M343.9 337.6H349.1M346.9 356.6H352.1M349.9 346.1H355.1M353.9 326.3H359.1M356.9 326.3H362.1M359.9 333.7H365.1M363.9 329.2H369.1M366.9 329.2H372.1M369.9 330H375.1M373.9 345.3H379.1M376.9 332.1H382.1M379.9 338H385.1M382.9 333.7H388.1M386.9 326.3H392.1M389.9 332.1H395.1M392.9 330H398.1M396.9 338.9H402.1M399.9 330.3H405.1M402.9 336H408.1M406.9 324.7H412.1M409.9 326.8H415.1M412.9 325.3H418.1M415.9 313.7H421.1M419.9 312.6H425.1M422.9 333.5H428.1M425.9 323.5H431.1M429.9 332.7H435.1M432.9 325.2H438.1M435.9 331.1H441.1M439.9 330H445.1M442.9 335.2H448.1M445.9 328.7H451.1M448.9 327.4H454.1M452.9 330.6H458.1M455.9 332.3H461.1M458.9 324.7H464.1M462.9 326.3H468.1M465.9 327.9H471.1M468.9 324.7H474.1M472.9 330H478.1M475.9 319.8H481.1M478.9 327.9H484.1M481.9 335.2H487.1M485.9 318.7H491.1M488.9 323.1H494.1M491.9 323.5H497.1M495.9 317.7H501.1M498.9 327.4H504.1M501.9 320.6H507.1M505.9 323H511.1" stroke="#000" stroke-width="1.1" fill="none"/>
<path d="M310 359.8L313.3 348.9L316.6 354.2L319.9 351L323.2 351L326.5 356.3L329.8 343.4L333.1 351L336.4 346.6L339.7 353M346.3 341.3L349.6 367.6L352.9 353L356.2 335.3L359.5 333.5L362.8 343.7L366.1 339.2L369.4 342.9L372.7 339.7L376 351L379.3 340.8L382.6 345L385.9 340.8L389.2 336.9L392.5 338.9L395.8 338.9L399.1 346.9L402.4 341.4L405.7 346.6L409 341.4L412.3 337.8L415.6 340.1L418.9 331.8L422.2 331.9L425.5 342.4L428.8 333.5L432.1 338.4L435.4 332.7L438.7 338.4L442 336.8L445.3 341.3L448.6 335.2L451.9 333.5L455.2 336.8L458.5 338.4L461.8 332.3L465.1 332.7L468.4 333.2L471.7 330L475 335.2L478.3 327.4L481.6 333.2L484.9 340.3L488.2 323.9L491.5 327.9L494.8 328.7L498.1 325.5L501.4 332.7L504.7 325.5L508 332.3" stroke="#000" stroke-width="0.95" fill="none" stroke-linejoin="round"/>
<g fill="#fff" stroke="#000" stroke-width="0.9"><circle cx="310" cy="359.8" r="2"/><circle cx="313.3" cy="348.9" r="2"/><circle cx="316.6" cy="354.2" r="2"/><circle cx="319.9" cy="351" r="2"/><circle cx="323.2" cy="351" r="2"/><circle cx="326.5" cy="356.3" r="2"/><circle cx="329.8" cy="343.4" r="2"/><circle cx="333.1" cy="351" r="2"/><circle cx="336.4" cy="346.6" r="2"/><circle cx="339.7" cy="353" r="2"/><circle cx="346.3" cy="341.3" r="2"/><circle cx="349.6" cy="367.6" r="2"/><circle cx="352.9" cy="353" r="2"/><circle cx="356.2" cy="335.3" r="2"/><circle cx="359.5" cy="333.5" r="2"/><circle cx="362.8" cy="343.7" r="2"/><circle cx="366.1" cy="339.2" r="2"/><circle cx="369.4" cy="342.9" r="2"/><circle cx="372.7" cy="339.7" r="2"/><circle cx="376" cy="351" r="2"/><circle cx="379.3" cy="340.8" r="2"/><circle cx="382.6" cy="345" r="2"/><circle cx="385.9" cy="340.8" r="2"/><circle cx="389.2" cy="336.9" r="2"/><circle cx="392.5" cy="338.9" r="2"/><circle cx="395.8" cy="338.9" r="2"/><circle cx="399.1" cy="346.9" r="2"/><circle cx="402.4" cy="341.4" r="2"/><circle cx="405.7" cy="346.6" r="2"/><circle cx="409" cy="341.4" r="2"/><circle cx="412.3" cy="337.8" r="2"/><circle cx="415.6" cy="340.1" r="2"/><circle cx="418.9" cy="331.8" r="2"/><circle cx="422.2" cy="331.9" r="2"/><circle cx="425.5" cy="342.4" r="2"/><circle cx="428.8" cy="333.5" r="2"/><circle cx="432.1" cy="338.4" r="2"/><circle cx="435.4" cy="332.7" r="2"/><circle cx="438.7" cy="338.4" r="2"/><circle cx="442" cy="336.8" r="2"/><circle cx="445.3" cy="341.3" r="2"/><circle cx="448.6" cy="335.2" r="2"/><circle cx="451.9" cy="333.5" r="2"/><circle cx="455.2" cy="336.8" r="2"/><circle cx="458.5" cy="338.4" r="2"/><circle cx="461.8" cy="332.3" r="2"/><circle cx="465.1" cy="332.7" r="2"/><circle cx="468.4" cy="333.2" r="2"/><circle cx="471.7" cy="330" r="2"/><circle cx="475" cy="335.2" r="2"/><circle cx="478.3" cy="327.4" r="2"/><circle cx="481.6" cy="333.2" r="2"/><circle cx="484.9" cy="340.3" r="2"/><circle cx="488.2" cy="323.9" r="2"/><circle cx="491.5" cy="327.9" r="2"/><circle cx="494.8" cy="328.7" r="2"/><circle cx="498.1" cy="325.5" r="2"/><circle cx="501.4" cy="332.7" r="2"/><circle cx="504.7" cy="325.5" r="2"/><circle cx="508" cy="332.3" r="2"/></g>
<path d="M540.5 353.4V351.8M543.5 355V350.2M549.5 357.9V353.4M553.5 348.9V344M559.5 349.4V345.6M563.5 349.8V347M569.5 351V346.6M576.5 351.8V348.2M579.5 345.2V341.6M582.5 346V320.5M586.5 301V283.7M589.5 288.9V266.3M592.5 304.2V276M596.5 305.3V275.2M599.5 301.5V272.4M602.5 304.2V272.4M606.5 313.9V288.9M609.5 301.5V274.7M612.5 316.4V287.3M615.5 319.6V295.3M619.5 316V291.8M622.5 316.1V295.3M625.5 333.7V311.5M629.5 334.8V314.4M632.5 336.4V317.6M635.5 332.3V313.3M639.5 344.6V322.6M642.5 339.6V316.8M645.5 345.4V324.8M648.5 344.8V320M652.5 333V307.3M655.5 350V329.8M658.5 350.8V329.8M662.5 350.8V329.4M665.5 361.6V343.2M668.5 358.4V341.1M672.5 360.5V341.9M675.5 356.5V340.3M678.5 350.8V333.5M681.5 351.3V333.9M685.5 348.4V329.4M688.5 356.5V340M691.5 349.2V334.2M695.5 347.6V334.2M698.5 357.7V343.5M701.5 355V339.5M705.5 355.2V340.6M708.5 351.3V340.3M711.5 349.2V335.8M714.5 354V343.2M718.5 348.4V336.3M721.5 350.3V336.3M724.5 342.3V328.7M728.5 343.2V329M731.5 344.4V333M734.5 342V330.3M738.5 345.5V332.3" stroke="#111" stroke-width="0.95" fill="none"/>
<path d="M537.9 351.8H543.1M540.9 350.2H546.1M546.9 353.4H552.1M550.9 344H556.1M556.9 345.6H562.1M560.9 347H566.1M566.9 346.6H572.1M573.9 348.2H579.1M576.9 341.6H582.1M579.9 320.5H585.1M583.9 283.7H589.1M586.9 266.3H592.1M589.9 276H595.1M593.9 275.2H599.1M596.9 272.4H602.1M599.9 272.4H605.1M603.9 288.9H609.1M606.9 274.7H612.1M609.9 287.3H615.1M612.9 295.3H618.1M616.9 291.8H622.1M619.9 295.3H625.1M622.9 311.5H628.1M626.9 314.4H632.1M629.9 317.6H635.1M632.9 313.3H638.1M636.9 322.6H642.1M639.9 316.8H645.1M642.9 324.8H648.1M645.9 320H651.1M649.9 307.3H655.1M652.9 329.8H658.1M655.9 329.8H661.1M659.9 329.4H665.1M662.9 343.2H668.1M665.9 341.1H671.1M669.9 341.9H675.1M672.9 340.3H678.1M675.9 333.5H681.1M678.9 333.9H684.1M682.9 329.4H688.1M685.9 340H691.1M688.9 334.2H694.1M692.9 334.2H698.1M695.9 343.5H701.1M698.9 339.5H704.1M702.9 340.6H708.1M705.9 340.3H711.1M708.9 335.8H714.1M711.9 343.2H717.1M715.9 336.3H721.1M718.9 336.3H724.1M721.9 328.7H727.1M725.9 329H731.1M728.9 333H734.1M731.9 330.3H737.1M735.9 332.3H741.1" stroke="#000" stroke-width="1.1" fill="none"/>
<path d="M540 353.4L543.3 355L546.6 355.3L549.9 357.9L553.2 348.9L556.5 358.2L559.8 349.4L563.1 349.8L566.4 353.4L569.7 351M576.3 351.8L579.6 345.2L582.9 346L586.2 301L589.5 288.9L592.8 304.2L596.1 305.3L599.4 301.5L602.7 304.2L606 313.9L609.3 301.5L612.6 316.4L615.9 319.6L619.2 316L622.5 316.1L625.8 333.7L629.1 334.8L632.4 336.4L635.7 332.3L639 344.6L642.3 339.6L645.6 345.4L648.9 344.8L652.2 333L655.5 350L658.8 350.8L662.1 350.8L665.4 361.6L668.7 358.4L672 360.5L675.3 356.5L678.6 350.8L681.9 351.3L685.2 348.4L688.5 356.5L691.8 349.2L695.1 347.6L698.4 357.7L701.7 355L705 355.2L708.3 351.3L711.6 349.2L714.9 354L718.2 348.4L721.5 350.3L724.8 342.3L728.1 343.2L731.4 344.4L734.7 342L738 345.5" stroke="#000" stroke-width="0.95" fill="none" stroke-linejoin="round"/>
<g fill="#fff" stroke="#000" stroke-width="0.9"><circle cx="540" cy="353.4" r="2"/><circle cx="543.3" cy="355" r="2"/><circle cx="546.6" cy="355.3" r="2"/><circle cx="549.9" cy="357.9" r="2"/><circle cx="553.2" cy="348.9" r="2"/><circle cx="556.5" cy="358.2" r="2"/><circle cx="559.8" cy="349.4" r="2"/><circle cx="563.1" cy="349.8" r="2"/><circle cx="566.4" cy="353.4" r="2"/><circle cx="569.7" cy="351" r="2"/><circle cx="576.3" cy="351.8" r="2"/><circle cx="579.6" cy="345.2" r="2"/><circle cx="582.9" cy="346" r="2"/><circle cx="586.2" cy="301" r="2"/><circle cx="589.5" cy="288.9" r="2"/><circle cx="592.8" cy="304.2" r="2"/><circle cx="596.1" cy="305.3" r="2"/><circle cx="599.4" cy="301.5" r="2"/><circle cx="602.7" cy="304.2" r="2"/><circle cx="606" cy="313.9" r="2"/><circle cx="609.3" cy="301.5" r="2"/><circle cx="612.6" cy="316.4" r="2"/><circle cx="615.9" cy="319.6" r="2"/><circle cx="619.2" cy="316" r="2"/><circle cx="622.5" cy="316.1" r="2"/><circle cx="625.8" cy="333.7" r="2"/><circle cx="629.1" cy="334.8" r="2"/><circle cx="632.4" cy="336.4" r="2"/><circle cx="635.7" cy="332.3" r="2"/><circle cx="639" cy="344.6" r="2"/><circle cx="642.3" cy="339.6" r="2"/><circle cx="645.6" cy="345.4" r="2"/><circle cx="648.9" cy="344.8" r="2"/><circle cx="652.2" cy="333" r="2"/><circle cx="655.5" cy="350" r="2"/><circle cx="658.8" cy="350.8" r="2"/><circle cx="662.1" cy="350.8" r="2"/><circle cx="665.4" cy="361.6" r="2"/><circle cx="668.7" cy="358.4" r="2"/><circle cx="672" cy="360.5" r="2"/><circle cx="675.3" cy="356.5" r="2"/><circle cx="678.6" cy="350.8" r="2"/><circle cx="681.9" cy="351.3" r="2"/><circle cx="685.2" cy="348.4" r="2"/><circle cx="688.5" cy="356.5" r="2"/><circle cx="691.8" cy="349.2" r="2"/><circle cx="695.1" cy="347.6" r="2"/><circle cx="698.4" cy="357.7" r="2"/><circle cx="701.7" cy="355" r="2"/><circle cx="705" cy="355.2" r="2"/><circle cx="708.3" cy="351.3" r="2"/><circle cx="711.6" cy="349.2" r="2"/><circle cx="714.9" cy="354" r="2"/><circle cx="718.2" cy="348.4" r="2"/><circle cx="721.5" cy="350.3" r="2"/><circle cx="724.8" cy="342.3" r="2"/><circle cx="728.1" cy="343.2" r="2"/><circle cx="731.4" cy="344.4" r="2"/><circle cx="734.7" cy="342" r="2"/><circle cx="738" cy="345.5" r="2"/></g>
<path d="M110 446.3V411.6" stroke="#000" stroke-width="1.9" fill="none"/>
<path d="M105.2 429.6L110 412.8L114.8 429.6" stroke="#000" stroke-width="1.7" fill="none" stroke-linejoin="miter" stroke-miterlimit="10"/>
<path d="M341.4 446.3V411.6" stroke="#000" stroke-width="1.0" fill="none"/>
<path d="M336.6 429.6L341.4 412.8L346.2 429.6" stroke="#000" stroke-width="1.7" fill="none" stroke-linejoin="miter" stroke-miterlimit="10"/>
<path d="M571.6 445.8V411.6" stroke="#000" stroke-width="1.4" fill="none"/>
<path d="M566.8 429.6L571.6 412.8L576.4 429.6" stroke="#000" stroke-width="1.7" fill="none" stroke-linejoin="miter" stroke-miterlimit="10"/>
<text x="176.7" y="13.2" text-anchor="middle" >Intact</text>
<text x="405.7" y="13" text-anchor="middle" >Capsazepine</text>
<text x="638.8" y="13" text-anchor="middle" >Recovery</text>
<text class="t" transform="translate(69.8,30.3) scale(1,1.06)" text-anchor="end" style="font-size:17px">45</text>
<text class="t" transform="translate(69.8,72.5) scale(1,1.06)" text-anchor="end" style="font-size:17px">30</text>
<text class="t" transform="translate(69.8,114.5) scale(1,1.06)" text-anchor="end" style="font-size:17px">15</text>
<text class="t" transform="translate(69.8,156.5) scale(1,1.06)" text-anchor="end" style="font-size:17px">0</text>
<text class="t" transform="translate(70.4,220.8) scale(1,1.06)" text-anchor="end" style="font-size:17px">20</text>
<text class="t" transform="translate(70.4,255) scale(1,1.06)" text-anchor="end" style="font-size:17px">15</text>
<text class="t" transform="translate(70.4,289.2) scale(1,1.06)" text-anchor="end" style="font-size:17px">10</text>
<text class="t" transform="translate(70.4,323.4) scale(1,1.06)" text-anchor="end" style="font-size:17px">5</text>
<text class="t" transform="translate(70.4,357.4) scale(1,1.06)" text-anchor="end" style="font-size:17px">0</text>
<text class="t" transform="translate(78,403.8) scale(1,1.06)" text-anchor="middle" style="font-size:17px">-10</text>
<text class="t" transform="translate(111,403.8) scale(1,1.06)" text-anchor="middle" style="font-size:17px">0</text>
<text class="t" transform="translate(145.2,403.8) scale(1,1.06)" text-anchor="middle" style="font-size:17px">10</text>
<text class="t" transform="translate(178.2,403.8) scale(1,1.06)" text-anchor="middle" style="font-size:17px">20</text>
<text class="t" transform="translate(211.2,403.8) scale(1,1.06)" text-anchor="middle" style="font-size:17px">30</text>
<text class="t" transform="translate(244.2,403.8) scale(1,1.06)" text-anchor="middle" style="font-size:17px">40</text>
<text class="t" transform="translate(277.2,403.8) scale(1,1.06)" text-anchor="middle" style="font-size:17px">50</text>
<text class="t" transform="translate(309.5,403.6) scale(1,1.06)" text-anchor="middle" style="font-size:17px">-10</text>
<text class="t" transform="translate(341.8,403.6) scale(1,1.06)" text-anchor="middle" style="font-size:17px">0</text>
<text class="t" transform="translate(376,403.6) scale(1,1.06)" text-anchor="middle" style="font-size:17px">10</text>
<text class="t" transform="translate(409,403.6) scale(1,1.06)" text-anchor="middle" style="font-size:17px">20</text>
<text class="t" transform="translate(442,403.6) scale(1,1.06)" text-anchor="middle" style="font-size:17px">30</text>
<text class="t" transform="translate(475,403.6) scale(1,1.06)" text-anchor="middle" style="font-size:17px">40</text>
<text class="t" transform="translate(508,403.6) scale(1,1.06)" text-anchor="middle" style="font-size:17px">50</text>
<text class="t" transform="translate(539.9,405.2) scale(1,1.06)" text-anchor="middle" style="font-size:17px">-10</text>
<text class="t" transform="translate(572.2,405.2) scale(1,1.06)" text-anchor="middle" style="font-size:17px">0</text>
<text class="t" transform="translate(606.4,405.2) scale(1,1.06)" text-anchor="middle" style="font-size:17px">10</text>
<text class="t" transform="translate(639.4,405.2) scale(1,1.06)" text-anchor="middle" style="font-size:17px">20</text>
<text class="t" transform="translate(672.4,405.2) scale(1,1.06)" text-anchor="middle" style="font-size:17px">30</text>
<text class="t" transform="translate(705.4,405.2) scale(1,1.06)" text-anchor="middle" style="font-size:17px">40</text>
<text class="t" transform="translate(738.4,405.2) scale(1,1.06)" text-anchor="middle" style="font-size:17px">50</text>
<text x="411.3" y="462.3" text-anchor="middle" >Breath number</text>
<text class="b" transform="translate(15.4,325.1) rotate(-90)" text-anchor="start" style="font-size:15.4px;word-spacing:0.85px">Percentage change from baseline</text>
<text transform="translate(38.6,112) rotate(-90)" text-anchor="start"><tspan font-style="italic">R</tspan><tspan style="font-size:7.6px" dx="1.8" dy="5" stroke="#000" stroke-width="0.3">L</tspan></text>
<text transform="translate(36.5,312.5) rotate(-90)" text-anchor="start"><tspan font-style="italic">E</tspan><tspan style="font-size:8.8px" dy="4.1" stroke="#000" stroke-width="0.25">L,dyn</tspan></text>
</svg>
</body></html>
